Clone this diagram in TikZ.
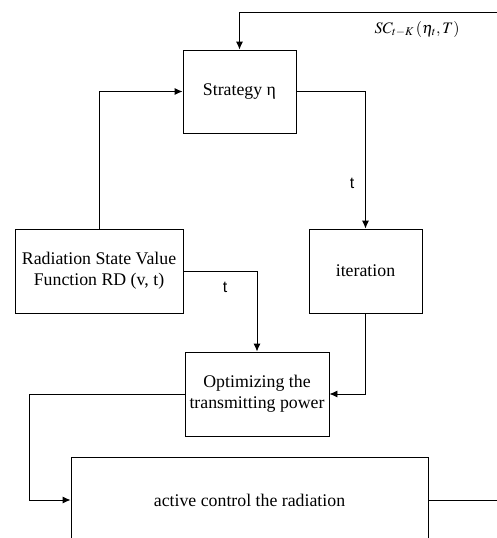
\documentclass[tikz,border=0pt]{standalone}
\usepackage{mathptmx}
\usepackage{fontspec}
\setmainfont{Liberation Serif}
\newfontfamily\tlabelfont{Liberation Sans}
\usetikzlibrary{positioning, arrows.meta}
\tikzset{
    blk/.style={draw, line width=0.9pt, inner sep=0pt, align=center,
        font=\fontsize{17.8}{21}\selectfont},
    tlab/.style={font=\tlabelfont\fontsize{16}{18}\selectfont},
    >={Latex[length=8pt, width=7pt]}
}
\begin{document}
\begin{tikzpicture}[x=1pt, y=-1pt, line width=0.9pt]
    \useasboundingbox (0,0) rectangle (497,538);
    \clip (0,0) rectangle (497,538);
    % boxes
    \node[blk, minimum width=113, minimum height=83] (strat) at (239.5,91.5) {Strategy η};
    \node[blk, minimum width=113, minimum height=84] (iter) at (365.5,271) {iteration};
    \node[blk, minimum width=168, minimum height=84] (rad) at (99,271) {Radiation State Value\\Function RD (v, t)};
    \node[blk, minimum width=144, minimum height=84] (opt) at (257,394) {Optimizing the\\transmitting power};
    \node[blk, minimum width=357, minimum height=86] (act) at (249.5,500) {active control the radiation};
    % free ends
    \coordinate (fbin) at (497,12);
    \coordinate (lft) at (29,394);
    \coordinate (aout) at (497,500);
    % connectors
    \draw[->] (fbin) -| (strat.north);
    \draw[->] (strat.east) -| (iter.north);
    \draw[->] (rad.north) |- (strat.west);
    \draw[->] (rad.east) -| (opt.north);
    \draw[->] (iter.south) |- (opt.east);
    \draw[->] (opt.west) -- (lft) |- (act.west);
    \draw (act.east) -- (aout);
    % labels
    \node[font=\fontsize{16}{18}\selectfont] (sclab) at (417,29) {$SC_{t-K}\left(\eta_t, T\right)$};
    \node[tlab] (tone) at (352,183) {t};
    \node[tlab] (ttwo) at (225,287) {t};
\end{tikzpicture}
\end{document}
